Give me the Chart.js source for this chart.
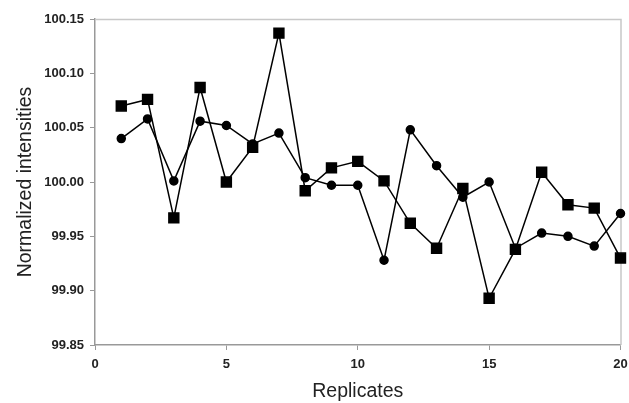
<!DOCTYPE html>
<html>
<head>
  <title>Normalized intensities</title>
  <script src="https://cdn.jsdelivr.net/npm/chart.js"></script>
  <style>
    html, body { margin: 0; padding: 0; background: #fff; }
    #wrap { position: relative; width: 629px; height: 403px; }
  </style>
</head>
<body>
  <div id="wrap"><canvas id="chart"></canvas></div>

  <script>
    const replicates = [1, 2, 3, 4, 5, 6, 7, 8, 9, 10, 11, 12, 13, 14, 15, 16, 17, 18, 19, 20];
    const squares = [100.070, 100.076, 99.967, 100.087, 100.000, 100.032, 100.137, 99.992, 100.013, 100.019,
                     100.001, 99.962, 99.939, 99.994, 99.893, 99.938, 100.009, 99.979, 99.976, 99.930];
    const circles = [100.040, 100.058, 100.001, 100.056, 100.052, 100.035, 100.045, 100.004, 99.997, 99.997,
                     99.928, 100.048, 100.015, 99.986, 100.000, 99.939, 99.953, 99.950, 99.941, 99.971];

    const fontFamily = 'Liberation Sans, Arial, sans-serif';

    // light frame on top and right of plot area
    const frame = {
      id: 'frame',
      beforeDatasetsDraw(chart) {
        const a = chart.chartArea, ctx = chart.ctx;
        ctx.save();
        ctx.strokeStyle = '#c8c8c8';
        ctx.lineWidth = 1.5;
        ctx.beginPath();
        ctx.moveTo(a.left, a.top + 0.5);
        ctx.lineTo(a.right + 0.5, a.top + 0.5);
        ctx.lineTo(a.right + 0.5, a.bottom);
        ctx.stroke();
        ctx.restore();
      }
    };

    const ctx = document.getElementById('chart').getContext('2d');
    new Chart(ctx, {
      type: 'line',
      data: {
        datasets: [{
          data: replicates.map((x, i) => ({ x, y: circles[i] })),
          borderColor: '#000',
          backgroundColor: '#000',
          borderWidth: 1.5,
          pointStyle: 'circle',
          pointRadius: 4,
          tension: 0,
          clip: false
        }, {
          data: replicates.map((x, i) => ({ x, y: squares[i] })),
          borderColor: '#000',
          backgroundColor: '#000',
          borderWidth: 1.5,
          pointStyle: 'rect',
          pointRadius: 7,
          tension: 0,
          clip: false
        }]
      },
      options: {
        responsive: true,
        maintainAspectRatio: false,
        animation: false,
        layout: { padding: { top: 19, right: 4, left: 0, bottom: 0 } },
        plugins: { legend: { display: false }, tooltip: { enabled: false } },
        scales: {
          x: {
            type: 'linear',
            min: 0, max: 20,
            afterFit: s => { s.height = 58; s.paddingRight = 0; },
            ticks: {
              stepSize: 5,
              color: '#222',
              padding: 7,
              font: { family: fontFamily, size: 13, weight: 'bold' }
            },
            grid: { drawOnChartArea: false, drawTicks: true, tickLength: 5, color: '#999' },
            border: { color: '#999', width: 1.5 },
            title: {
              display: true,
              text: 'Replicates',
              color: '#222',
              padding: { top: 0, bottom: 0 },
              font: { family: fontFamily, size: 19.5 }
            }
          },
          y: {
            min: 99.85, max: 100.15,
            afterFit: s => { s.width = 95; },
            ticks: {
              stepSize: 0.05,
              color: '#222',
              padding: 6,
              callback: v => v.toFixed(2),
              font: { family: fontFamily, size: 13, weight: 'bold' }
            },
            grid: { drawOnChartArea: false, drawTicks: true, tickLength: 5, color: '#999' },
            border: { color: '#999', width: 1.5 },
            title: {
              display: true,
              text: 'Normalized intensities',
              color: '#222',
              padding: { top: 14, bottom: 0 },
              font: { family: fontFamily, size: 19.5 }
            }
          }
        }
      },
      plugins: [frame]
    });
  </script>
</body>
</html>
